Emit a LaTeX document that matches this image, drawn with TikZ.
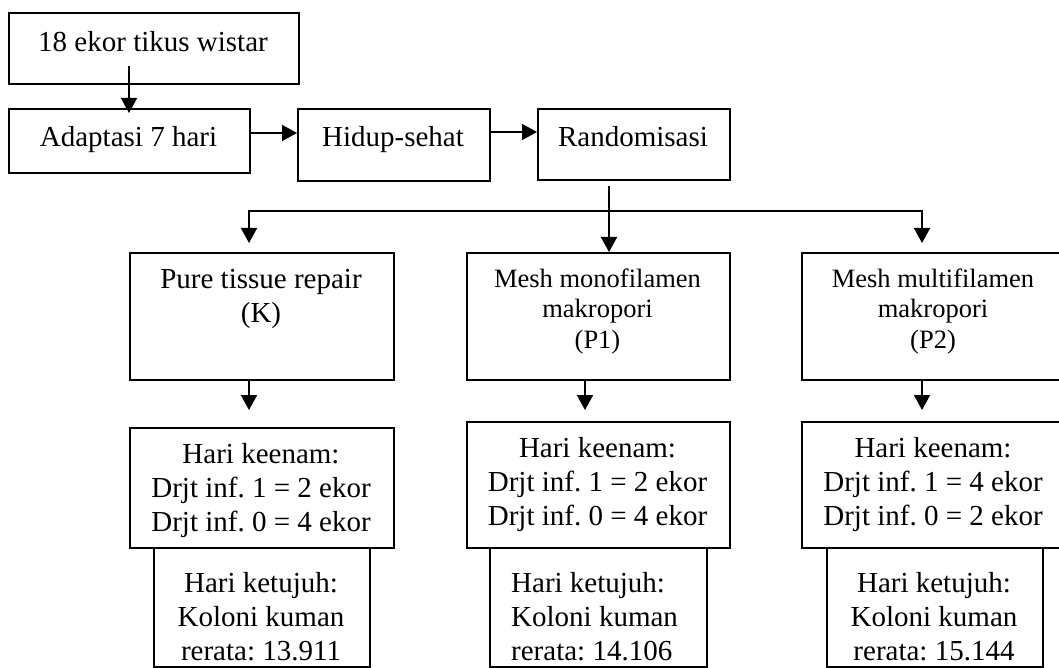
\documentclass[tikz,border=0pt]{standalone}
\usepackage{fontspec}
\setmainfont{Liberation Serif}
\usetikzlibrary{arrows.meta}
\frenchspacing
\begin{document}
\begin{tikzpicture}[x=1pt,y=-1pt,
  box/.style={draw, line width=1.8pt, anchor=north west, inner sep=0pt},
  txt/.style={anchor=base, inner sep=0pt, align=center, font=\frenchspacing\fontsize{29}{34}\selectfont},
  stxt/.style={anchor=base, inner sep=0pt, align=center, font=\frenchspacing\fontsize{26.5}{30.5}\selectfont},
  arr/.style={line width=1.8pt, -{Triangle[length=15pt,width=16pt]}}]
\useasboundingbox (0,0) rectangle (1059,668);
% boxes
\node[box, minimum width=290, minimum height=71] (tikus) at (8,12) {};
\node[box, minimum width=241, minimum height=64] (adapt) at (8,108) {};
\node[box, minimum width=192, minimum height=72] (hidup) at (297,108) {};
\node[box, minimum width=192, minimum height=71] (random) at (537,108) {};
\node[box, minimum width=264, minimum height=127] (K) at (129,252) {};
\node[box, minimum width=263, minimum height=127] (P1) at (466,252) {};
\node[box, minimum width=264, minimum height=127] (P2) at (801,252) {};
\node[box, minimum width=264, minimum height=120] (K2) at (129,427) {};
\node[box, minimum width=263, minimum height=126] (P12) at (466,421) {};
\node[box, minimum width=264, minimum height=126] (P22) at (801,421) {};
\node[box, minimum width=216, minimum height=119] (K3) at (153,547) {};
\node[box, minimum width=217, minimum height=119] (P13) at (489,547) {};
\node[box, minimum width=216, minimum height=119] (P23) at (826,547) {};
% texts (multi-line nodes: base = last line baseline)
\node[txt] (t0) at (153,52) {18 ekor tikus wistar};
\node[txt] (t1) at (128.5,147) {Adaptasi 7 hari};
\node[txt] (t2) at (393,147) {Hidup-sehat};
\node[txt] (t3) at (633,147) {Randomisasi};
\node[txt] (tK) at (261,322) {Pure tissue repair\\(K)};
\node[stxt] (tP1) at (597.5,348) {Mesh monofilamen\\makropori\\(P1)};
\node[stxt] (tP2) at (933,348) {Mesh multifilamen\\makropori\\(P2)};
\node[txt] (tK2) at (261,531) {Hari keenam:\\Drjt inf. 1 = 2 ekor\\Drjt inf. 0 = 4 ekor};
\node[txt] (tP12) at (597.5,525) {Hari keenam:\\Drjt inf. 1 = 2 ekor\\Drjt inf. 0 = 4 ekor};
\node[txt] (tP22) at (933,525) {Hari keenam:\\Drjt inf. 1 = 4 ekor\\Drjt inf. 0 = 2 ekor};
\node[txt] (tK3) at (261,660) {Hari ketujuh:\\Koloni kuman\\rerata: 13.911};
\node[txt, anchor=base west, align=left] (tP13) at (511,660) {Hari ketujuh:\\Koloni kuman\\rerata: 14.106};
\node[txt] (tP23) at (934,660) {Hari ketujuh:\\Koloni kuman\\rerata: 15.144};
% connector points
\coordinate (a1s) at (129,66);
\coordinate (a1e) at (129,113);
\coordinate (h1) at (0,133);
\coordinate (h2) at (0,132);
\coordinate (rs) at (609,186);
\coordinate (split) at (609,211);
\coordinate (kt) at (249,243);
\coordinate (pt) at (922,243);
\coordinate (kx) at (249,410);
\coordinate (p1x) at (585,410);
\coordinate (p2x) at (922,410);
% connectors
\draw[arr] (a1s) -- (a1e);
\draw[arr] (adapt.east |- h1) -- (hidup.west |- h1);
\draw[arr] (hidup.east |- h2) -- (random.west |- h2);
\draw[arr] (rs) -- (P1.north -| rs);
\draw[arr] (split) -| (kt);
\draw[arr] (split) -| (pt);
\draw[arr] (K.south -| kx) -- (kx);
\draw[arr] (P1.south -| p1x) -- (p1x);
\draw[arr] (P2.south -| p2x) -- (p2x);
\end{tikzpicture}
\end{document}
